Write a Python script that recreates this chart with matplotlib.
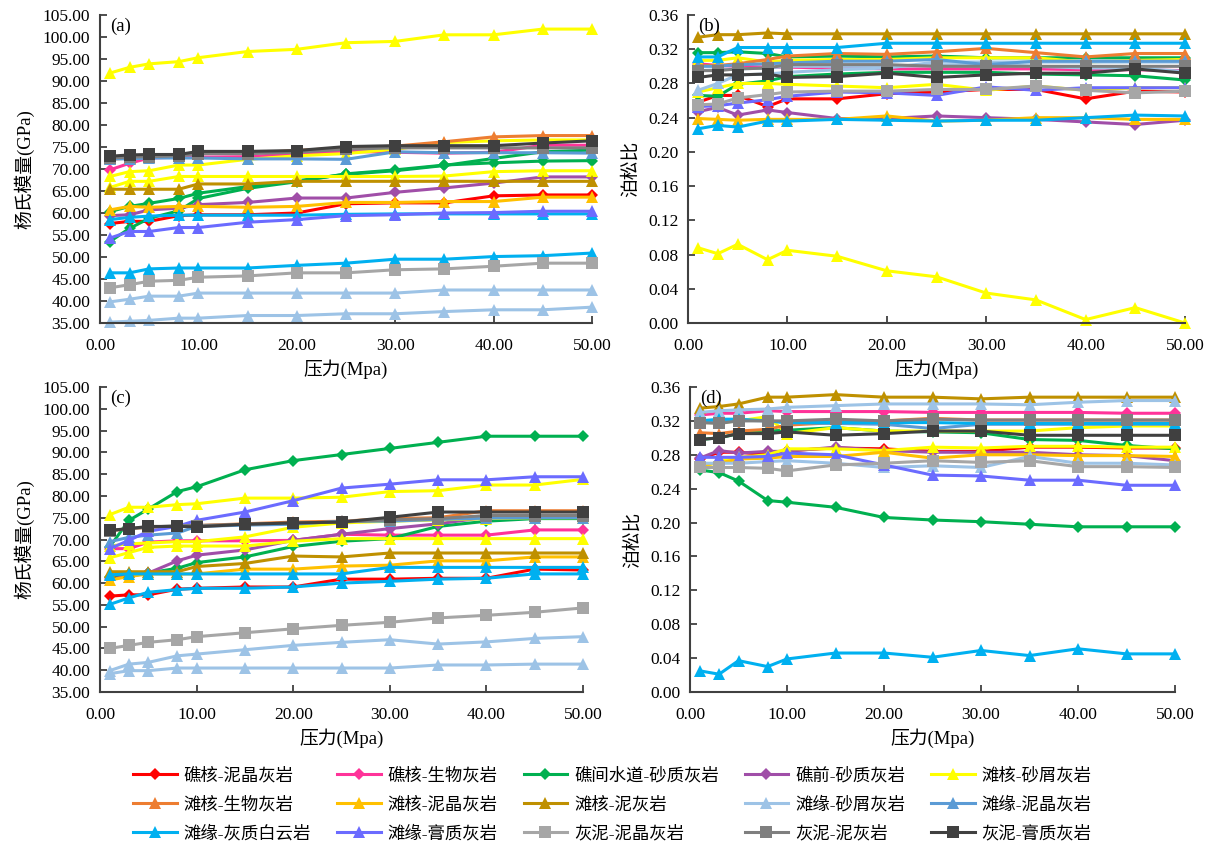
import matplotlib.pyplot as plt
from matplotlib.ticker import FormatStrFormatter, MultipleLocator
from matplotlib.lines import Line2D

plt.rcParams['font.family'] = ['Liberation Serif', 'Noto Sans CJK SC', 'DejaVu Sans']

# pressure (MPa)
pressure = [1, 3, 5, 8, 10, 15, 20, 25, 30, 35, 40, 45, 50]

# series names in legend order
names = ["礁核-泥晶灰岩", "礁核-生物灰岩", "礁间水道-砂质灰岩", "礁前-砂质灰岩", "滩核-砂屑灰岩",
         "滩核-生物灰岩", "滩核-泥晶灰岩", "滩核-泥灰岩", "滩缘-砂屑灰岩", "滩缘-泥晶灰岩",
         "滩缘-灰质白云岩", "滩缘-膏质灰岩", "灰泥-泥晶灰岩", "灰泥-泥灰岩", "灰泥-膏质灰岩"]
colors = ["#ff0000", "#ff3399", "#00b050", "#a04ea8", "#ffff00",
          "#ed7d31", "#ffc000", "#bf9000", "#9dc3e6", "#5b9bd5",
          "#00b0f0", "#6b6bff", "#a6a6a6", "#7f7f7f", "#404040"]
markers = ["D", "D", "D", "D", "^",
           "^", "^", "^", "^", "^",
           "^", "^", "s", "s", "s"]

# (a) Young's modulus, keys with "_2"/"_3" are extra curves drawn in the same style
youngs_a = {
    "礁核-泥晶灰岩": [57.6, 58.1, 58.1, 59.4, 59.6, 59.6, 60.0, 62.1, 62.3, 62.3, 63.9, 64.1, 64.1],
    "礁核-生物灰岩": [69.8, 71.3, 72.5, 72.7, 72.7, 72.8, 73.5, 74.0, 73.8, 73.6, 73.8, 75.4, 75.4],
    "礁间水道-砂质灰岩": [60.3, 61.5, 62.2, 63.3, 64.5, 66.0, 67.3, 68.8, 69.6, 70.8, 72.4, 73.9, 74.3],
    "礁间水道-砂质灰岩_2": [53.5, 56.5, 58.8, 60.5, 63.3, 65.6, 67.1, 68.9, 69.8, 70.9, 71.4, 71.8, 71.9],
    "礁前-砂质灰岩": [59.4, 59.6, 60.7, 61.1, 61.9, 62.4, 63.4, 63.4, 64.7, 65.7, 66.8, 68.2, 68.2],
    "滩核-砂屑灰岩": [91.8, 93.1, 93.9, 94.4, 95.3, 96.7, 97.2, 98.7, 99.0, 100.5, 100.5, 101.8, 101.8],
    "滩核-砂屑灰岩_2": [68.3, 69.4, 69.6, 70.9, 70.9, 72.2, 73.0, 73.5, 74.5, 76.0, 76.4, 76.6, 76.6],
    "滩核-砂屑灰岩_3": [65.8, 67.2, 67.2, 68.3, 68.3, 68.3, 68.3, 68.3, 68.3, 68.4, 69.4, 69.6, 69.6],
    "滩核-生物灰岩": [72.2, 72.5, 72.8, 73.0, 73.5, 73.6, 74.2, 74.8, 75.2, 76.2, 77.3, 77.6, 77.6],
    "滩核-泥晶灰岩": [60.7, 61.5, 61.3, 61.5, 61.5, 61.3, 61.5, 62.4, 62.4, 62.6, 62.6, 63.6, 63.6],
    "滩核-泥灰岩": [65.4, 65.4, 65.4, 65.4, 66.6, 66.6, 67.2, 67.2, 67.2, 67.2, 67.2, 67.2, 67.2],
    "滩缘-砂屑灰岩": [39.8, 40.4, 41.1, 41.1, 41.8, 41.8, 41.8, 41.8, 41.8, 42.5, 42.5, 42.5, 42.5],
    "滩缘-砂屑灰岩_2": [35.2, 35.4, 35.6, 36.1, 36.1, 36.7, 36.7, 37.1, 37.1, 37.6, 38.0, 38.0, 38.6],
    "滩缘-泥晶灰岩": [72.3, 72.3, 72.5, 72.5, 72.5, 72.3, 72.3, 72.2, 73.9, 73.7, 73.7, 73.7, 73.6],
    "滩缘-灰质白云岩": [46.4, 46.4, 47.3, 47.5, 47.5, 47.5, 48.1, 48.6, 49.5, 49.5, 50.1, 50.3, 50.9],
    "滩缘-灰质白云岩_2": [58.5, 59.0, 59.3, 59.5, 59.5, 59.5, 59.5, 59.7, 59.8, 59.8, 59.8, 59.8, 59.8],
    "滩缘-膏质灰岩": [54.3, 55.8, 55.8, 56.7, 56.7, 57.9, 58.5, 59.4, 59.6, 60.0, 60.1, 60.4, 60.4],
    "灰泥-泥晶灰岩": [43.0, 43.7, 44.5, 44.7, 45.4, 45.7, 46.4, 46.4, 47.1, 47.3, 47.9, 48.6, 48.6],
    "灰泥-泥灰岩": [72.5, 72.7, 72.8, 73.0, 73.5, 73.5, 73.8, 74.5, 74.8, 74.8, 74.8, 74.8, 74.8],
    "灰泥-膏质灰岩": [72.9, 73.2, 73.3, 73.3, 74.0, 74.0, 74.2, 75.1, 75.3, 75.3, 75.3, 75.9, 76.4],
}

# (b) Poisson's ratio
poisson_b = {
    "礁核-泥晶灰岩": [0.258, 0.266, 0.266, 0.253, 0.262, 0.262, 0.268, 0.270, 0.273, 0.273, 0.262, 0.271, 0.270],
    "礁核-生物灰岩": [0.303, 0.301, 0.300, 0.299, 0.299, 0.298, 0.297, 0.297, 0.297, 0.297, 0.296, 0.296, 0.295],
    "礁间水道-砂质灰岩": [0.316, 0.316, 0.317, 0.315, 0.311, 0.312, 0.311, 0.312, 0.310, 0.310, 0.310, 0.310, 0.310],
    "礁间水道-砂质灰岩_2": [0.266, 0.265, 0.279, 0.283, 0.288, 0.291, 0.293, 0.293, 0.293, 0.291, 0.290, 0.289, 0.284],
    "礁前-砂质灰岩": [0.247, 0.252, 0.243, 0.249, 0.246, 0.239, 0.239, 0.242, 0.240, 0.238, 0.235, 0.232, 0.237],
    "滩核-砂屑灰岩": [0.088, 0.081, 0.092, 0.074, 0.085, 0.078, 0.061, 0.054, 0.035, 0.027, 0.004, 0.018, 0.000],
    "滩核-砂屑灰岩_2": [0.307, 0.307, 0.310, 0.305, 0.307, 0.308, 0.308, 0.310, 0.310, 0.310, 0.305, 0.307, 0.308],
    "滩核-砂屑灰岩_3": [0.270, 0.275, 0.280, 0.280, 0.279, 0.277, 0.275, 0.279, 0.272, 0.277, 0.272, 0.275, 0.275],
    "滩核-生物灰岩": [0.301, 0.301, 0.303, 0.308, 0.312, 0.315, 0.314, 0.317, 0.321, 0.316, 0.311, 0.315, 0.315],
    "滩核-泥晶灰岩": [0.239, 0.238, 0.237, 0.238, 0.238, 0.238, 0.242, 0.236, 0.237, 0.240, 0.240, 0.238, 0.238],
    "滩核-泥灰岩": [0.334, 0.337, 0.337, 0.339, 0.338, 0.338, 0.338, 0.338, 0.338, 0.338, 0.338, 0.338, 0.338],
    "滩缘-砂屑灰岩": [0.272, 0.280, 0.290, 0.291, 0.293, 0.296, 0.298, 0.305, 0.305, 0.305, 0.305, 0.305, 0.305],
    "滩缘-砂屑灰岩_2": [0.295, 0.296, 0.297, 0.298, 0.300, 0.300, 0.300, 0.301, 0.303, 0.300, 0.298, 0.298, 0.294],
    "滩缘-泥晶灰岩": [0.300, 0.300, 0.302, 0.303, 0.304, 0.306, 0.306, 0.308, 0.302, 0.306, 0.306, 0.306, 0.306],
    "滩缘-灰质白云岩": [0.227, 0.231, 0.229, 0.236, 0.236, 0.238, 0.237, 0.236, 0.237, 0.237, 0.240, 0.243, 0.242],
    "滩缘-灰质白云岩_2": [0.311, 0.311, 0.322, 0.322, 0.322, 0.322, 0.327, 0.327, 0.327, 0.327, 0.327, 0.327, 0.327],
    "滩缘-膏质灰岩": [0.253, 0.254, 0.257, 0.261, 0.265, 0.270, 0.269, 0.266, 0.276, 0.272, 0.275, 0.275, 0.275],
    "灰泥-泥晶灰岩": [0.255, 0.256, 0.263, 0.267, 0.270, 0.271, 0.271, 0.273, 0.273, 0.277, 0.272, 0.269, 0.271],
    "灰泥-泥灰岩": [0.295, 0.295, 0.297, 0.298, 0.302, 0.302, 0.302, 0.300, 0.300, 0.300, 0.300, 0.300, 0.300],
    "灰泥-膏质灰岩": [0.287, 0.290, 0.290, 0.291, 0.287, 0.288, 0.292, 0.287, 0.290, 0.292, 0.292, 0.297, 0.292],
}

# (c) Young's modulus
youngs_c = {
    "礁核-泥晶灰岩": [57.0, 57.3, 57.3, 58.6, 58.8, 59.1, 59.1, 60.9, 60.9, 61.1, 61.1, 63.2, 63.0],
    "礁核-生物灰岩": [67.9, 67.9, 69.4, 69.7, 69.7, 69.7, 69.8, 71.2, 71.0, 71.0, 71.0, 72.2, 72.2],
    "礁间水道-砂质灰岩": [68.3, 74.4, 77.0, 81.0, 82.1, 86.0, 88.1, 89.5, 90.9, 92.3, 93.7, 93.7, 93.7],
    "礁间水道-砂质灰岩_2": [61.5, 62.0, 62.3, 63.4, 64.7, 66.0, 68.4, 69.6, 70.2, 73.0, 74.2, 74.8, 74.8],
    "礁前-砂质灰岩": [60.9, 61.6, 62.3, 65.1, 66.4, 67.6, 69.8, 71.2, 72.5, 73.6, 75.1, 75.1, 75.1],
    "滩核-砂屑灰岩": [75.7, 77.4, 77.4, 78.0, 78.2, 79.5, 79.5, 79.7, 81.0, 81.2, 82.5, 82.5, 83.8],
    "滩核-砂屑灰岩_2": [65.8, 67.0, 68.2, 68.5, 68.5, 68.5, 69.6, 70.2, 70.2, 70.2, 70.2, 70.2, 70.2],
    "滩核-砂屑灰岩_3": [68.5, 69.0, 69.2, 69.5, 69.5, 70.6, 72.8, 73.8, 74.2, 74.5, 74.8, 75.0, 75.0],
    "滩核-生物灰岩": [72.0, 72.5, 72.8, 73.0, 73.2, 73.6, 74.0, 74.2, 74.8, 75.0, 76.6, 76.6, 76.6],
    "滩核-泥晶灰岩": [60.7, 61.5, 62.1, 62.1, 62.1, 63.2, 63.2, 63.9, 64.1, 65.1, 65.1, 66.0, 66.0],
    "滩核-泥灰岩": [62.6, 62.6, 62.6, 62.6, 63.8, 64.5, 66.2, 66.0, 66.9, 66.9, 66.9, 66.9, 66.9],
    "滩缘-砂屑灰岩": [39.9, 41.4, 41.8, 43.3, 43.7, 44.7, 45.7, 46.4, 47.0, 46.0, 46.5, 47.3, 47.7],
    "滩缘-砂屑灰岩_2": [39.2, 39.9, 39.9, 40.5, 40.5, 40.5, 40.5, 40.5, 40.5, 41.2, 41.2, 41.4, 41.4],
    "滩缘-泥晶灰岩": [69.5, 70.5, 71.0, 71.5, 73.0, 73.3, 73.5, 74.2, 74.2, 74.6, 74.9, 75.0, 75.0],
    "滩缘-灰质白云岩": [55.1, 56.6, 57.9, 58.5, 58.8, 58.8, 59.1, 60.0, 60.4, 60.9, 61.1, 62.1, 62.1],
    "滩缘-灰质白云岩_2": [61.9, 62.1, 62.1, 62.1, 62.1, 62.1, 62.1, 62.1, 63.6, 63.6, 63.6, 63.6, 63.6],
    "滩缘-膏质灰岩": [67.9, 69.8, 71.9, 73.0, 74.4, 76.3, 78.9, 81.8, 82.7, 83.7, 83.7, 84.4, 84.4],
    "灰泥-泥晶灰岩": [45.0, 45.7, 46.4, 47.0, 47.7, 48.6, 49.5, 50.3, 51.0, 52.0, 52.6, 53.3, 54.3],
    "灰泥-泥灰岩": [72.0, 72.5, 72.8, 73.2, 73.2, 73.5, 73.8, 74.0, 74.5, 74.8, 75.5, 75.5, 75.5],
    "灰泥-膏质灰岩": [72.1, 72.5, 73.0, 73.0, 72.9, 73.5, 73.8, 74.0, 75.1, 76.3, 76.3, 76.3, 76.3],
}

# (d) Poisson's ratio
poisson_d = {
    "礁核-泥晶灰岩": [0.275, 0.283, 0.283, 0.280, 0.285, 0.288, 0.287, 0.284, 0.284, 0.289, 0.289, 0.288, 0.288],
    "礁核-生物灰岩": [0.327, 0.329, 0.329, 0.332, 0.331, 0.331, 0.331, 0.330, 0.330, 0.330, 0.330, 0.329, 0.329],
    "礁间水道-砂质灰岩": [0.262, 0.259, 0.249, 0.226, 0.224, 0.218, 0.206, 0.203, 0.201, 0.198, 0.195, 0.195, 0.195],
    "礁间水道-砂质灰岩_2": [0.298, 0.300, 0.305, 0.308, 0.309, 0.312, 0.308, 0.307, 0.306, 0.298, 0.297, 0.291, 0.287],
    "礁前-砂质灰岩": [0.276, 0.285, 0.282, 0.284, 0.284, 0.289, 0.285, 0.283, 0.283, 0.283, 0.280, 0.279, 0.273],
    "滩核-砂屑灰岩": [0.318, 0.318, 0.320, 0.325, 0.305, 0.312, 0.308, 0.308, 0.308, 0.308, 0.312, 0.314, 0.314],
    "滩核-砂屑灰岩_2": [0.265, 0.272, 0.277, 0.280, 0.287, 0.287, 0.285, 0.289, 0.288, 0.290, 0.290, 0.289, 0.289],
    "滩核-生物灰岩": [0.306, 0.305, 0.308, 0.310, 0.315, 0.318, 0.320, 0.323, 0.321, 0.321, 0.321, 0.321, 0.321],
    "滩核-泥晶灰岩": [0.268, 0.270, 0.275, 0.276, 0.278, 0.278, 0.283, 0.276, 0.280, 0.280, 0.279, 0.279, 0.278],
    "滩核-泥灰岩": [0.335, 0.337, 0.340, 0.348, 0.348, 0.351, 0.348, 0.348, 0.346, 0.348, 0.348, 0.348, 0.348],
    "滩缘-砂屑灰岩": [0.330, 0.332, 0.333, 0.334, 0.336, 0.338, 0.340, 0.340, 0.340, 0.339, 0.342, 0.344, 0.344],
    "滩缘-砂屑灰岩_2": [0.270, 0.270, 0.270, 0.272, 0.273, 0.270, 0.265, 0.267, 0.265, 0.278, 0.270, 0.270, 0.268],
    "滩缘-泥晶灰岩": [0.318, 0.320, 0.321, 0.320, 0.318, 0.317, 0.316, 0.311, 0.316, 0.316, 0.316, 0.316, 0.316],
    "滩缘-灰质白云岩": [0.025, 0.021, 0.037, 0.030, 0.039, 0.046, 0.046, 0.041, 0.049, 0.043, 0.051, 0.045, 0.045],
    "滩缘-灰质白云岩_2": [0.320, 0.322, 0.322, 0.320, 0.318, 0.318, 0.318, 0.318, 0.317, 0.317, 0.317, 0.317, 0.317],
    "滩缘-膏质灰岩": [0.277, 0.277, 0.277, 0.278, 0.282, 0.280, 0.268, 0.256, 0.255, 0.250, 0.250, 0.244, 0.244],
    "灰泥-泥晶灰岩": [0.265, 0.265, 0.265, 0.264, 0.261, 0.268, 0.270, 0.273, 0.271, 0.273, 0.266, 0.266, 0.265],
    "灰泥-泥灰岩": [0.318, 0.317, 0.320, 0.320, 0.320, 0.322, 0.320, 0.322, 0.321, 0.321, 0.321, 0.321, 0.321],
    "灰泥-膏质灰岩": [0.298, 0.300, 0.305, 0.305, 0.307, 0.303, 0.305, 0.308, 0.308, 0.303, 0.303, 0.303, 0.303],
}

W, H = 1225, 842
fig = plt.figure(figsize=(W / 100, H / 100), dpi=100)


def px_axes(left, top, right, bottom):
    return fig.add_axes([left / W, 1 - bottom / H, (right - left) / W, (bottom - top) / H])


panels = [
    (px_axes(100, 15, 592, 323), youngs_a, "(a)", "杨氏模量(GPa)", (35, 105), 5),
    (px_axes(688, 15, 1185, 323), poisson_b, "(b)", "泊松比", (0, 0.36), 0.04),
    (px_axes(100, 387, 583, 692), youngs_c, "(c)", "杨氏模量(GPa)", (35, 105), 5),
    (px_axes(690, 387, 1175, 692), poisson_d, "(d)", "泊松比", (0, 0.36), 0.04),
]

style = {n: (c, m) for n, c, m in zip(names, colors, markers)}

for ax, data, tag, ylab, ylim, ystep in panels:
    for key, vals in data.items():
        c, m = style[key.split("_")[0]]
        ms = 6 if m == "D" else 8
        ax.plot(pressure, vals, color=c, marker=m, markersize=ms, linewidth=2.2,
                markeredgewidth=0, clip_on=False)
    ax.set_xlim(0, 50)
    ax.set_ylim(*ylim)
    ax.xaxis.set_major_locator(MultipleLocator(10))
    ax.yaxis.set_major_locator(MultipleLocator(ystep))
    ax.xaxis.set_major_formatter(FormatStrFormatter("%.2f"))
    ax.yaxis.set_major_formatter(FormatStrFormatter("%.2f"))
    ax.tick_params(direction="in", length=5, width=1.3, labelsize=12.5, color="#404040")
    ax.tick_params(axis="x", pad=11)
    ax.tick_params(axis="y", pad=7)
    for s in ("top", "right"):
        ax.spines[s].set_visible(False)
    for s in ("left", "bottom"):
        ax.spines[s].set_linewidth(1.5)
        ax.spines[s].set_color("#404040")
    ax.set_xlabel("压力(Mpa)", fontsize=13.5, labelpad=4)
    ax.set_ylabel(ylab, fontsize=13.5, labelpad=6)
    ax.text(0.02, 0.99, tag, transform=ax.transAxes, fontsize=13.5, va="top", ha="left")

handles = [Line2D([], [], color=c, marker=m, markersize=8 if m != "D" else 6,
                  linewidth=2.2, markeredgewidth=0) for c, m in zip(colors, markers)]
order = [r * 5 + c for c in range(5) for r in range(3)]
fig.legend([handles[i] for i in order], [names[i] for i in order], ncol=5,
           loc="upper center", bbox_to_anchor=(0.5, 1 - 752 / H), frameon=False,
           fontsize=12.5, handlelength=2.5, columnspacing=1.5, labelspacing=0.72,
           handletextpad=0.4)

fig.savefig("out.png", dpi=100)
